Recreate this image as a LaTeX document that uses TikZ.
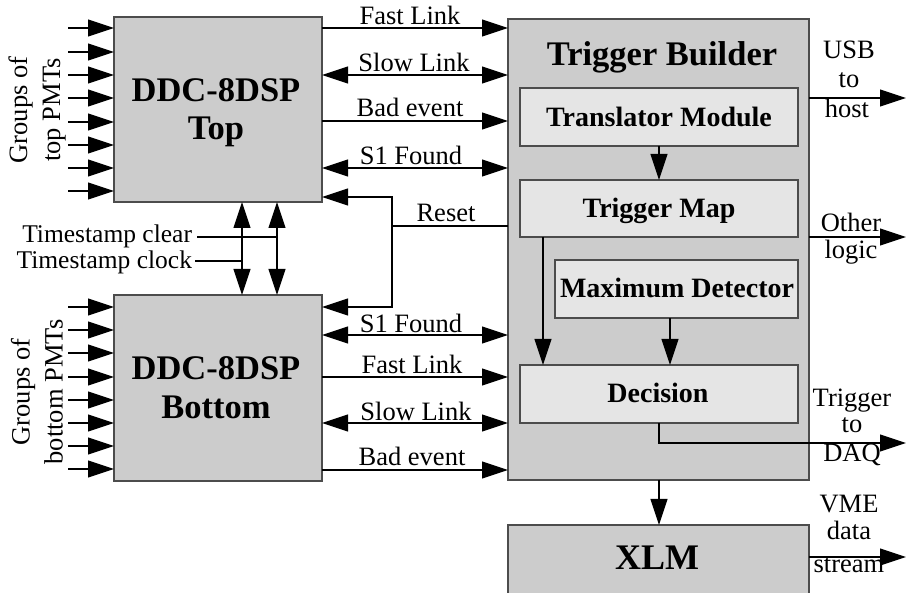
\documentclass[tikz,border=0pt]{standalone}
\usepackage{fontspec}
\setmainfont{Liberation Serif}
\usetikzlibrary{arrows.meta}
\begin{document}
\begin{tikzpicture}[x=1pt,y=-1pt,
  every node/.style={inner sep=0pt, outer sep=0pt},
  lbl/.style={font=\fontsize{26.5}{29}\selectfont, anchor=base},
  big/.style={font=\fontsize{34.5}{38}\selectfont\bfseries, anchor=base},
  mid/.style={font=\fontsize{28}{30}\selectfont\bfseries, anchor=base},
  arr/.style={-{Triangle[length=26pt,width=17pt]}, line width=1.1pt},
  darr/.style={{Triangle[length=26pt,width=17pt]}-{Triangle[length=26pt,width=17pt]}, line width=1.1pt},
  plain/.style={line width=1.1pt},
  outerbox/.style={draw=black!70, fill=black!20, line width=1.3pt, anchor=north west},
  innerbox/.style={draw=black!70, fill=black!10, line width=1.3pt, anchor=north west},
]
\useasboundingbox (0,0) rectangle (906,593);

% boxes
\node[outerbox, minimum width=208pt, minimum height=185pt] (top) at (114,17) {};
\node[outerbox, minimum width=208pt, minimum height=186pt] (bot) at (114,295) {};
\node[outerbox, minimum width=301pt, minimum height=461pt] (tb) at (508,19) {};
\node[innerbox, minimum width=278pt, minimum height=58pt] (tm) at (520,88) {};
\node[innerbox, minimum width=278pt, minimum height=57pt] (map) at (520,180) {};
\node[innerbox, minimum width=243pt, minimum height=58pt] (maxd) at (555,260) {};
\node[innerbox, minimum width=278pt, minimum height=58pt] (dec) at (520,365) {};
\node[outerbox, minimum width=301pt, minimum height=80pt] (xlm) at (508,525) {};

% box texts
\node[big] (topa) at (216,102) {DDC-8DSP};
\node[big] (topb) at (216,140) {Top};
\node[big] (bota) at (216,380) {DDC-8DSP};
\node[big] (botb) at (216,419) {Bottom};
\node[big] (tbt) at (662,66) {Trigger Builder};
\node[mid] (tmt) at (659,127) {Translator Module};
\node[mid] (mapt) at (659,218) {Trigger Map};
\node[mid] (maxt) at (677,298) {Maximum Detector};
\node[mid] (dect) at (658,403) {Decision};
\node[font=\fontsize{36}{40}\selectfont\bfseries, anchor=base] (xlmt) at (657,570) {XLM};

% PMT inputs
\foreach \y in {28,52,75,98,122,145,168,191}
  \draw[arr] (68,\y) -- (top.west |- 0,\y);
\foreach \y in {307,330,353,377,400,423,446,469}
  \draw[arr] (68,\y) -- (bot.west |- 0,\y);
\node[font=\fontsize{26.5}{33}\selectfont, align=center, rotate=90] (gtop) at (37,110) {Groups of\\top PMTs};
\node[font=\fontsize{26.5}{33}\selectfont, align=center, rotate=90] (gbot) at (37,392) {Groups of\\bottom PMTs};

% links top
\draw[arr] (top.east |- 0,28) -- (tb.west |- 0,28);
\draw[darr] (top.east |- 0,75) -- (tb.west |- 0,75);
\draw[arr] (top.east |- 0,121) -- (tb.west |- 0,121);
\draw[darr] (top.east |- 0,168) -- (tb.west |- 0,168);
\node[lbl] (l1) at (410,25) {Fast Link};
\node[lbl] (l2) at (414,72) {Slow Link};
\node[lbl] (l3) at (410,117) {Bad event};
\node[lbl] (l4) at (411,165) {S1 Found};

% links bottom
\draw[darr] (bot.east |- 0,335) -- (tb.west |- 0,335);
\draw[arr] (bot.east |- 0,377) -- (tb.west |- 0,377);
\draw[darr] (bot.east |- 0,423) -- (tb.west |- 0,423);
\draw[arr] (bot.east |- 0,470) -- (tb.west |- 0,470);
\node[lbl] (l5) at (411,333) {S1 Found};
\node[lbl] (l6) at (412,374) {Fast Link};
\node[lbl] (l7) at (416,421) {Slow Link};
\node[lbl] (l8) at (412,466) {Bad event};

% reset
\coordinate (rj) at (392,226);
\draw[plain] (tb.west |- rj) -- (rj);
\draw[arr] (rj) |- (top.east |- 0,197);
\draw[arr] (rj) |- (bot.east |- 0,307);
\node[lbl] (rst) at (446,222) {Reset};

% timestamps
\node[lbl, font=\fontsize{25.5}{29}\selectfont, anchor=base east] (tsc) at (192,243) {Timestamp clear};
\node[lbl, font=\fontsize{25.5}{29}\selectfont, anchor=base east] (tsk) at (192,269) {Timestamp clock};
\draw[darr] (top.south -| 242,0) -- (bot.north -| 242,0);
\draw[darr] (top.south -| 277,0) -- (bot.north -| 277,0);
\draw[plain] (197,237) -- (277,237);
\draw[plain] (195,261) -- (242,261);

% internal
\draw[arr] (tm.south) -- (map.north);
\draw[arr] (map.south -| 543,0) -- (dec.north -| 543,0);
\draw[arr] (maxd.south -| 670,0) -- (dec.north -| 670,0);
\draw[arr] (tb.south -| 659,0) -- (xlm.north -| 659,0);
\draw[arr] (dec.south) |- (906,443);

% outputs
\draw[arr] (tb.east |- 0,98) -- (906,98);
\draw[arr] (tb.east |- 0,237) -- (906,237);
\draw[arr] (xlm.east |- 0,557) -- (906,557);
\node[lbl] (o1) at (849,59) {USB};
\node[lbl] (o2) at (849,88) {to};
\node[lbl] (o3) at (847,118) {host};
\node[lbl] (o4) at (851,232) {Other};
\node[lbl] (o5) at (851,259) {logic};
\node[lbl] (o6) at (852,407) {Trigger};
\node[lbl] (o7) at (852,433) {to};
\node[lbl] (o8) at (852,462) {DAQ};
\node[lbl] (o9) at (849,513) {VME};
\node[lbl] (o10) at (849,540) {data};
\node[lbl] (o11) at (849,573) {stream};
\end{tikzpicture}
\end{document}
